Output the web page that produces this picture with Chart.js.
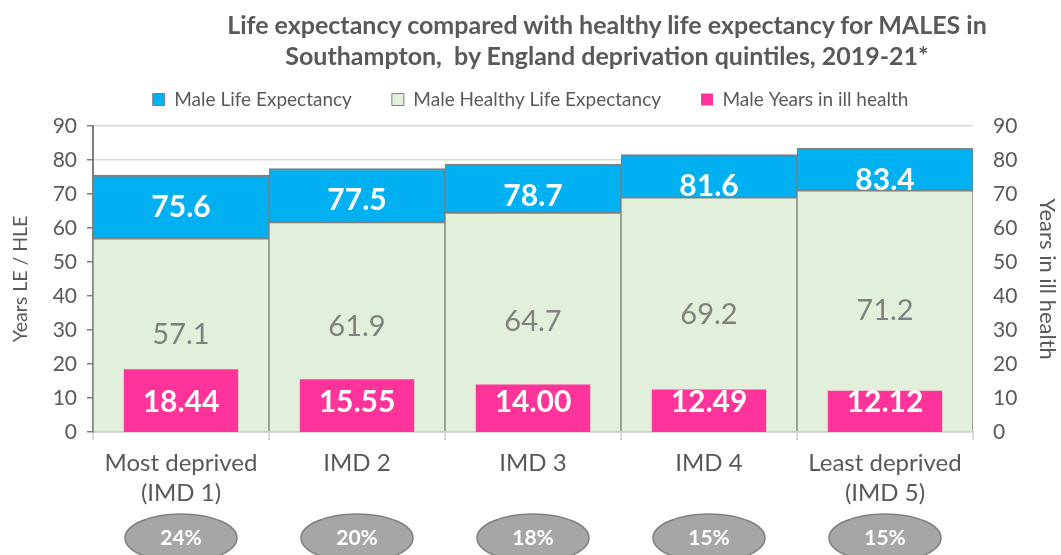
<!DOCTYPE html>
<html>
<head>
<meta charset="utf-8">
<script src="https://cdn.jsdelivr.net/npm/chart.js@4.4.1/dist/chart.umd.min.js"></script>
<style>
  html, body { margin: 0; padding: 0; background: #fff; }
  #wrap { position: relative; width: 1061px; height: 555px; overflow: hidden; }
  #title {
    position: absolute; left: 140px; width: 934px; top: 9px;
    text-align: center; font: bold 25px Lato, sans-serif; color: #595959; line-height: 31px;
  }
</style>
</head>
<body>
<div id="wrap">
  <div id="title">Life expectancy compared with healthy life expectancy for MALES in<br>Southampton,&nbsp; by England deprivation quintiles, 2019-21*</div>
  <canvas id="chart" width="1061" height="555"></canvas>
</div>
<script>
const categories = [['Most deprived', '(IMD 1)'], 'IMD 2', 'IMD 3', 'IMD 4', ['Least deprived', '(IMD 5)']];
const lifeExpectancy = [75.6, 77.5, 78.7, 81.6, 83.4];
const healthyLifeExpectancy = [57.1, 61.9, 64.7, 69.2, 71.2];
const yearsIllHealth = [18.44, 15.55, 14.00, 12.49, 12.12];
const illHealthShare = ['24%', '20%', '18%', '15%', '15%'];

const FONT = 'Lato, sans-serif';
const GREY_TEXT = '#595959';
const BORDER = '#7f7f7f';

// white / grey value labels on the bars
const barLabels = {
    id: 'barLabels',
    afterDatasetsDraw(chart) {
        const ctx = chart.ctx;
        const y = chart.scales.y;
        const y2 = chart.scales.y2;
        ctx.save();
        ctx.textAlign = 'center';
        ctx.textBaseline = 'middle';
        chart.getDatasetMeta(2).data.forEach((bar, i) => {
            ctx.font = `bold 30px ${FONT}`;
            ctx.fillStyle = '#fff';
            ctx.fillText(lifeExpectancy[i].toFixed(1), bar.x, y.getPixelForValue(lifeExpectancy[i]) + 32);
        });
        chart.getDatasetMeta(1).data.forEach((bar, i) => {
            ctx.font = `29px ${FONT}`;
            ctx.fillStyle = '#808080';
            ctx.fillText(healthyLifeExpectancy[i].toFixed(1), bar.x, y.getPixelForValue(healthyLifeExpectancy[i] / 2));
        });
        chart.getDatasetMeta(0).data.forEach((bar, i) => {
            ctx.font = `bold 30px ${FONT}`;
            ctx.fillStyle = '#fff';
            ctx.fillText(yearsIllHealth[i].toFixed(2), bar.x, y2.getPixelForValue(0) - 30);
        });
        ctx.restore();
    }
};

// grey ovals under the axis with the share of life spent in ill health
const shareOvals = {
    id: 'shareOvals',
    afterDraw(chart) {
        const ctx = chart.ctx;
        const x = chart.scales.x;
        ctx.save();
        illHealthShare.forEach((txt, i) => {
            const cx = x.getPixelForValue(i);
            ctx.beginPath();
            ctx.ellipse(cx, 538, 56, 24, 0, 0, Math.PI * 2);
            ctx.fillStyle = '#a6a6a6';
            ctx.fill();
            ctx.lineWidth = 1.5;
            ctx.strokeStyle = BORDER;
            ctx.stroke();
            ctx.font = `bold 21px ${FONT}`;
            ctx.fillStyle = '#fff';
            ctx.textAlign = 'center';
            ctx.textBaseline = 'middle';
            ctx.fillText(txt, cx, 538);
        });
        ctx.restore();
    }
};

// a bit more room between legend and plot
const legendGap = {
    id: 'legendGap',
    beforeInit(chart) {
        const fit = chart.legend.fit;
        chart.legend.fit = function () {
            fit.call(this);
            this.height += 7;
        };
    }
};

new Chart(document.getElementById('chart'), {
    type: 'bar',
    data: {
        labels: categories,
        datasets: [
            {
                label: 'Male Years in ill health',
                data: yearsIllHealth,
                yAxisID: 'y2',
                backgroundColor: '#ff3399',
                borderWidth: 0,
                grouped: false,
                barPercentage: 0.65,
                categoryPercentage: 1
            },
            {
                label: 'Male Healthy Life Expectancy',
                data: healthyLifeExpectancy,
                yAxisID: 'y',
                backgroundColor: '#e2efda',
                borderColor: BORDER,
                borderWidth: { top: 2, left: 1, right: 1, bottom: 0 },
                grouped: false,
                barPercentage: 1,
                categoryPercentage: 1
            },
            {
                label: 'Male Life Expectancy',
                data: lifeExpectancy,
                yAxisID: 'y',
                backgroundColor: '#00b0f0',
                borderColor: BORDER,
                borderWidth: { top: 2, left: 1, right: 1, bottom: 0 },
                grouped: false,
                barPercentage: 1,
                categoryPercentage: 1
            }
        ]
    },
    options: {
        responsive: false,
        animation: false,
        layout: { padding: { top: 50, left: 0, right: 0, bottom: 0 } },
        plugins: {
            title: { display: false },
            tooltip: { enabled: false },
            legend: {
                position: 'top',
                labels: {
                    boxWidth: 12,
                    boxHeight: 12,
                    padding: 40,
                    color: GREY_TEXT,
                    font: { family: FONT, size: 19 },
                    sort: (a, b) => b.datasetIndex - a.datasetIndex
                }
            }
        },
        scales: {
            x: {
                grid: { offset: true, drawOnChartArea: false, color: '#d9d9d9', lineWidth: 2, tickLength: 8 },
                border: { color: '#d9d9d9', width: 2 },
                ticks: { color: GREY_TEXT, font: { family: FONT, size: 24, lineHeight: 1.25 }, padding: 8, maxRotation: 0 },
                afterFit: s => { s.height = 123; }
            },
            y: {
                position: 'left',
                min: 0,
                max: 90,
                ticks: { stepSize: 10, color: GREY_TEXT, font: { family: FONT, size: 21 }, padding: 10 },
                grid: { color: '#d9d9d9', lineWidth: 1.5, tickColor: BORDER, tickLength: 6 },
                border: { color: BORDER, width: 2 },
                title: { display: true, text: 'Years LE / HLE', color: GREY_TEXT, font: { family: FONT, size: 19.5 }, padding: { top: 9, bottom: 0 } },
                afterFit: s => { s.width = 93; }
            },
            y2: {
                position: 'right',
                min: 0,
                max: 90,
                ticks: { stepSize: 10, color: GREY_TEXT, font: { family: FONT, size: 21 }, padding: 20 },
                grid: { display: false, drawTicks: false },
                border: { display: false },
                title: { display: true, text: 'Years in ill health', color: GREY_TEXT, font: { family: FONT, size: 22 }, padding: { top: 1, bottom: 0 } },
                afterFit: s => { s.width = 88; }
            }
        }
    },
    plugins: [barLabels, shareOvals, legendGap]
});
</script>
</body>
</html>
